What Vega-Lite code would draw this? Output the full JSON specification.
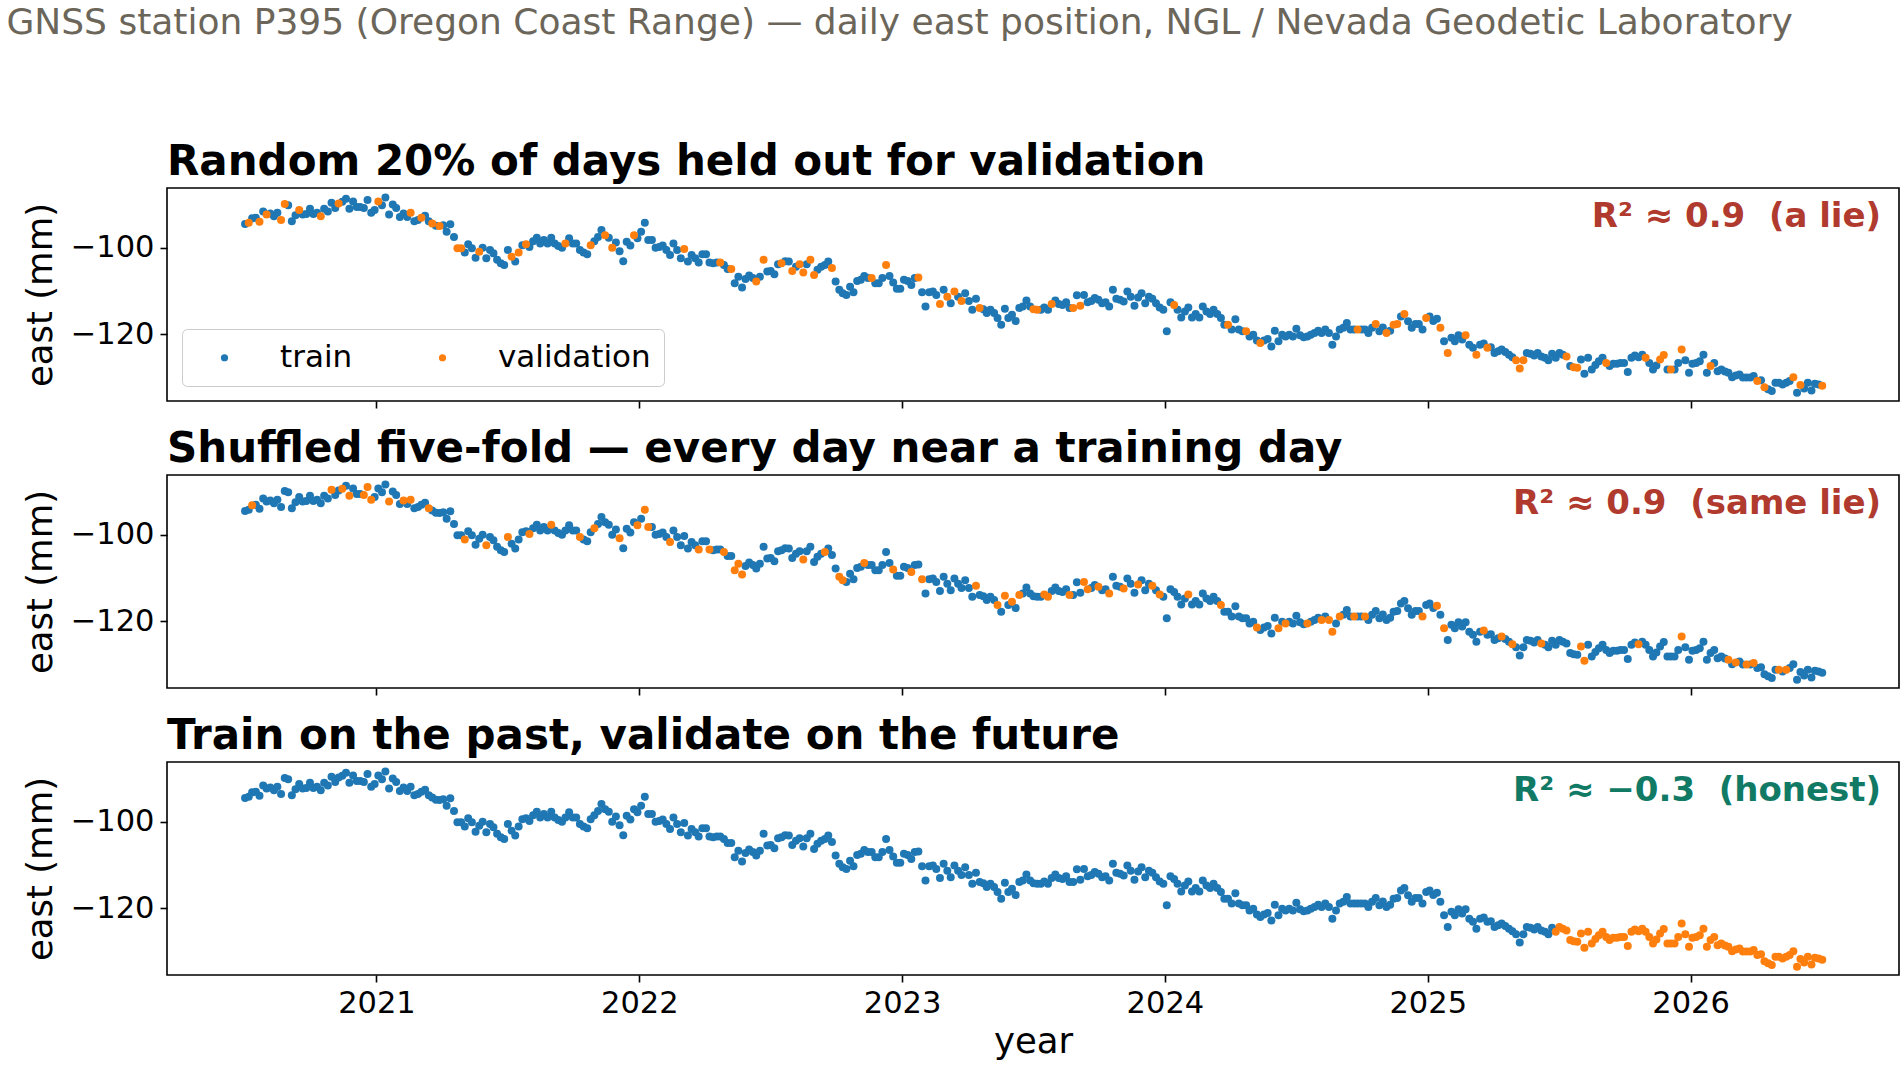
{
  "$schema": "https://vega.github.io/schema/vega-lite/v6.json",
  "background": "white",
  "padding": {"left": 6, "top": 5, "right": 4, "bottom": 6},
  "title": {
    "text": "GNSS station P395 (Oregon Coast Range) — daily east position, NGL / Nevada Geodetic Laboratory",
    "anchor": "start",
    "frame": "bounds",
    "baseline": "top",
    "fontSize": 36,
    "fontWeight": "normal",
    "color": "#6b6659",
    "offset": 98,
    "dx": -16
  },
  "datasets": {
    "gnss": [
      {"year":2020.500,"east":-94.5,"p1":0,"p2":0,"p3":0},
      {"year":2020.514,"east":-94.2,"p1":1,"p2":0,"p3":0},
      {"year":2020.527,"east":-93.2,"p1":0,"p2":1,"p3":0},
      {"year":2020.541,"east":-93.1,"p1":0,"p2":0,"p3":0},
      {"year":2020.555,"east":-94.0,"p1":1,"p2":0,"p3":0},
      {"year":2020.569,"east":-91.6,"p1":0,"p2":0,"p3":0},
      {"year":2020.582,"east":-92.3,"p1":1,"p2":0,"p3":0},
      {"year":2020.596,"east":-92.1,"p1":0,"p2":0,"p3":0},
      {"year":2020.610,"east":-92.7,"p1":0,"p2":0,"p3":0},
      {"year":2020.623,"east":-91.9,"p1":0,"p2":0,"p3":0},
      {"year":2020.637,"east":-93.6,"p1":1,"p2":0,"p3":0},
      {"year":2020.651,"east":-89.9,"p1":1,"p2":0,"p3":0},
      {"year":2020.664,"east":-90.2,"p1":0,"p2":0,"p3":0},
      {"year":2020.678,"east":-93.9,"p1":0,"p2":0,"p3":0},
      {"year":2020.692,"east":-92.5,"p1":0,"p2":0,"p3":0},
      {"year":2020.706,"east":-91.3,"p1":1,"p2":0,"p3":0},
      {"year":2020.719,"east":-92.3,"p1":0,"p2":0,"p3":0},
      {"year":2020.733,"east":-92.2,"p1":0,"p2":0,"p3":0},
      {"year":2020.747,"east":-91.0,"p1":0,"p2":0,"p3":0},
      {"year":2020.760,"east":-92.2,"p1":0,"p2":0,"p3":0},
      {"year":2020.774,"east":-91.9,"p1":0,"p2":0,"p3":0},
      {"year":2020.788,"east":-92.7,"p1":1,"p2":0,"p3":0},
      {"year":2020.801,"east":-91.0,"p1":0,"p2":0,"p3":0},
      {"year":2020.815,"east":-91.6,"p1":0,"p2":0,"p3":0},
      {"year":2020.829,"east":-89.6,"p1":0,"p2":1,"p3":0},
      {"year":2020.843,"east":-90.8,"p1":0,"p2":0,"p3":0},
      {"year":2020.856,"east":-89.8,"p1":1,"p2":0,"p3":0},
      {"year":2020.870,"east":-89.4,"p1":0,"p2":1,"p3":0},
      {"year":2020.884,"east":-88.7,"p1":0,"p2":0,"p3":0},
      {"year":2020.897,"east":-91.0,"p1":0,"p2":1,"p3":0},
      {"year":2020.911,"east":-89.3,"p1":0,"p2":0,"p3":0},
      {"year":2020.925,"east":-90.6,"p1":0,"p2":0,"p3":0},
      {"year":2020.938,"east":-90.6,"p1":0,"p2":0,"p3":0},
      {"year":2020.952,"east":-90.8,"p1":0,"p2":1,"p3":0},
      {"year":2020.966,"east":-89.0,"p1":0,"p2":1,"p3":0},
      {"year":2020.980,"east":-91.9,"p1":0,"p2":1,"p3":0},
      {"year":2020.993,"east":-91.3,"p1":0,"p2":0,"p3":0},
      {"year":2021.007,"east":-89.3,"p1":1,"p2":0,"p3":0},
      {"year":2021.021,"east":-90.2,"p1":0,"p2":0,"p3":0},
      {"year":2021.034,"east":-88.4,"p1":0,"p2":0,"p3":0},
      {"year":2021.048,"east":-92.3,"p1":0,"p2":1,"p3":0},
      {"year":2021.062,"east":-90.0,"p1":0,"p2":0,"p3":0},
      {"year":2021.075,"east":-90.8,"p1":0,"p2":0,"p3":0},
      {"year":2021.089,"east":-92.9,"p1":0,"p2":0,"p3":0},
      {"year":2021.103,"east":-92.1,"p1":0,"p2":1,"p3":0},
      {"year":2021.117,"east":-92.9,"p1":0,"p2":0,"p3":0},
      {"year":2021.130,"east":-91.9,"p1":1,"p2":1,"p3":0},
      {"year":2021.144,"east":-93.9,"p1":0,"p2":0,"p3":0},
      {"year":2021.158,"east":-93.6,"p1":0,"p2":0,"p3":0},
      {"year":2021.171,"east":-93.1,"p1":1,"p2":0,"p3":0},
      {"year":2021.185,"east":-92.6,"p1":0,"p2":0,"p3":0},
      {"year":2021.199,"east":-93.9,"p1":0,"p2":1,"p3":0},
      {"year":2021.212,"east":-94.4,"p1":1,"p2":0,"p3":0},
      {"year":2021.226,"east":-94.9,"p1":0,"p2":0,"p3":0},
      {"year":2021.240,"east":-95.0,"p1":1,"p2":0,"p3":0},
      {"year":2021.254,"east":-94.8,"p1":0,"p2":0,"p3":0},
      {"year":2021.267,"east":-96.3,"p1":0,"p2":0,"p3":0},
      {"year":2021.281,"east":-94.6,"p1":0,"p2":0,"p3":0},
      {"year":2021.295,"east":-97.5,"p1":0,"p2":0,"p3":0},
      {"year":2021.308,"east":-100.1,"p1":1,"p2":0,"p3":0},
      {"year":2021.322,"east":-100.1,"p1":1,"p2":0,"p3":0},
      {"year":2021.336,"east":-101.1,"p1":0,"p2":1,"p3":0},
      {"year":2021.349,"east":-99.2,"p1":0,"p2":0,"p3":0},
      {"year":2021.363,"east":-100.1,"p1":0,"p2":0,"p3":0},
      {"year":2021.377,"east":-102.3,"p1":0,"p2":0,"p3":0},
      {"year":2021.391,"east":-100.9,"p1":1,"p2":0,"p3":0},
      {"year":2021.404,"east":-100.0,"p1":0,"p2":0,"p3":0},
      {"year":2021.418,"east":-102.4,"p1":0,"p2":1,"p3":0},
      {"year":2021.432,"east":-100.5,"p1":0,"p2":0,"p3":0},
      {"year":2021.445,"east":-101.3,"p1":0,"p2":0,"p3":0},
      {"year":2021.459,"east":-102.8,"p1":0,"p2":0,"p3":0},
      {"year":2021.473,"east":-103.6,"p1":0,"p2":0,"p3":0},
      {"year":2021.486,"east":-104.0,"p1":0,"p2":0,"p3":0},
      {"year":2021.500,"east":-100.5,"p1":0,"p2":1,"p3":0},
      {"year":2021.514,"east":-102.1,"p1":1,"p2":0,"p3":0},
      {"year":2021.528,"east":-103.2,"p1":0,"p2":0,"p3":0},
      {"year":2021.541,"east":-101.1,"p1":1,"p2":0,"p3":0},
      {"year":2021.555,"east":-99.4,"p1":0,"p2":0,"p3":0},
      {"year":2021.569,"east":-99.2,"p1":1,"p2":0,"p3":0},
      {"year":2021.582,"east":-99.8,"p1":0,"p2":1,"p3":0},
      {"year":2021.596,"east":-98.5,"p1":0,"p2":0,"p3":0},
      {"year":2021.610,"east":-97.7,"p1":0,"p2":0,"p3":0},
      {"year":2021.623,"east":-99.0,"p1":0,"p2":0,"p3":0},
      {"year":2021.637,"east":-98.2,"p1":0,"p2":0,"p3":0},
      {"year":2021.651,"east":-99.0,"p1":0,"p2":0,"p3":0},
      {"year":2021.665,"east":-97.7,"p1":0,"p2":1,"p3":0},
      {"year":2021.678,"east":-99.0,"p1":0,"p2":0,"p3":0},
      {"year":2021.692,"east":-99.6,"p1":0,"p2":0,"p3":0},
      {"year":2021.706,"east":-100.0,"p1":0,"p2":0,"p3":0},
      {"year":2021.719,"east":-99.0,"p1":1,"p2":0,"p3":0},
      {"year":2021.733,"east":-97.8,"p1":0,"p2":0,"p3":0},
      {"year":2021.747,"east":-99.0,"p1":0,"p2":0,"p3":0},
      {"year":2021.760,"east":-99.0,"p1":0,"p2":0,"p3":0},
      {"year":2021.774,"east":-100.5,"p1":0,"p2":1,"p3":0},
      {"year":2021.788,"east":-101.1,"p1":0,"p2":0,"p3":0},
      {"year":2021.802,"east":-101.5,"p1":0,"p2":0,"p3":0},
      {"year":2021.815,"east":-99.4,"p1":1,"p2":0,"p3":0},
      {"year":2021.829,"east":-98.5,"p1":0,"p2":1,"p3":0},
      {"year":2021.843,"east":-97.5,"p1":0,"p2":0,"p3":0},
      {"year":2021.856,"east":-95.9,"p1":0,"p2":0,"p3":0},
      {"year":2021.870,"east":-97.1,"p1":1,"p2":0,"p3":0},
      {"year":2021.884,"east":-97.7,"p1":0,"p2":0,"p3":0},
      {"year":2021.897,"east":-100.0,"p1":1,"p2":0,"p3":0},
      {"year":2021.911,"east":-98.8,"p1":0,"p2":0,"p3":0},
      {"year":2021.925,"east":-100.8,"p1":0,"p2":1,"p3":0},
      {"year":2021.939,"east":-103.1,"p1":0,"p2":0,"p3":0},
      {"year":2021.952,"east":-98.6,"p1":0,"p2":0,"p3":0},
      {"year":2021.966,"east":-99.5,"p1":0,"p2":0,"p3":0},
      {"year":2021.980,"east":-97.1,"p1":1,"p2":0,"p3":0},
      {"year":2021.993,"east":-97.8,"p1":0,"p2":1,"p3":0},
      {"year":2022.007,"east":-96.3,"p1":0,"p2":0,"p3":0},
      {"year":2022.021,"east":-94.2,"p1":0,"p2":1,"p3":0},
      {"year":2022.034,"east":-98.2,"p1":0,"p2":1,"p3":0},
      {"year":2022.048,"east":-98.2,"p1":0,"p2":0,"p3":0},
      {"year":2022.062,"east":-100.0,"p1":0,"p2":0,"p3":0},
      {"year":2022.076,"east":-99.8,"p1":0,"p2":0,"p3":0},
      {"year":2022.089,"east":-99.5,"p1":0,"p2":0,"p3":0},
      {"year":2022.103,"east":-100.5,"p1":0,"p2":0,"p3":0},
      {"year":2022.117,"east":-101.7,"p1":0,"p2":1,"p3":0},
      {"year":2022.130,"east":-99.0,"p1":0,"p2":0,"p3":0},
      {"year":2022.144,"east":-100.5,"p1":0,"p2":0,"p3":0},
      {"year":2022.158,"east":-102.4,"p1":0,"p2":0,"p3":0},
      {"year":2022.171,"east":-100.3,"p1":1,"p2":0,"p3":0},
      {"year":2022.185,"east":-103.2,"p1":0,"p2":0,"p3":0},
      {"year":2022.199,"east":-101.7,"p1":0,"p2":0,"p3":0},
      {"year":2022.213,"east":-102.4,"p1":0,"p2":0,"p3":0},
      {"year":2022.226,"east":-103.4,"p1":0,"p2":1,"p3":0},
      {"year":2022.240,"east":-101.5,"p1":0,"p2":0,"p3":0},
      {"year":2022.254,"east":-101.5,"p1":0,"p2":0,"p3":0},
      {"year":2022.267,"east":-103.4,"p1":0,"p2":1,"p3":0},
      {"year":2022.281,"east":-103.6,"p1":0,"p2":0,"p3":0},
      {"year":2022.295,"east":-103.4,"p1":0,"p2":0,"p3":0},
      {"year":2022.308,"east":-103.4,"p1":1,"p2":0,"p3":0},
      {"year":2022.322,"east":-104.0,"p1":0,"p2":1,"p3":0},
      {"year":2022.336,"east":-104.9,"p1":0,"p2":0,"p3":0},
      {"year":2022.350,"east":-104.9,"p1":1,"p2":0,"p3":0},
      {"year":2022.363,"east":-108.2,"p1":0,"p2":1,"p3":0},
      {"year":2022.377,"east":-106.7,"p1":0,"p2":1,"p3":0},
      {"year":2022.391,"east":-109.2,"p1":0,"p2":1,"p3":0},
      {"year":2022.404,"east":-107.2,"p1":0,"p2":0,"p3":0},
      {"year":2022.418,"east":-106.4,"p1":0,"p2":0,"p3":0},
      {"year":2022.432,"east":-107.0,"p1":0,"p2":0,"p3":0},
      {"year":2022.445,"east":-107.8,"p1":1,"p2":0,"p3":0},
      {"year":2022.459,"east":-106.7,"p1":0,"p2":0,"p3":0},
      {"year":2022.473,"east":-102.8,"p1":1,"p2":0,"p3":0},
      {"year":2022.487,"east":-105.5,"p1":0,"p2":0,"p3":0},
      {"year":2022.500,"east":-105.4,"p1":0,"p2":0,"p3":0},
      {"year":2022.514,"east":-106.1,"p1":0,"p2":0,"p3":0},
      {"year":2022.528,"east":-103.8,"p1":0,"p2":0,"p3":0},
      {"year":2022.541,"east":-103.6,"p1":1,"p2":0,"p3":0},
      {"year":2022.555,"east":-103.1,"p1":0,"p2":0,"p3":0},
      {"year":2022.569,"east":-103.2,"p1":0,"p2":0,"p3":0},
      {"year":2022.582,"east":-105.4,"p1":1,"p2":0,"p3":0},
      {"year":2022.596,"east":-104.4,"p1":0,"p2":0,"p3":0},
      {"year":2022.610,"east":-103.8,"p1":1,"p2":0,"p3":0},
      {"year":2022.624,"east":-105.7,"p1":1,"p2":1,"p3":0},
      {"year":2022.637,"east":-103.8,"p1":0,"p2":0,"p3":0},
      {"year":2022.651,"east":-102.8,"p1":1,"p2":0,"p3":0},
      {"year":2022.665,"east":-106.3,"p1":1,"p2":0,"p3":0},
      {"year":2022.678,"east":-105.1,"p1":0,"p2":0,"p3":0},
      {"year":2022.692,"east":-104.4,"p1":0,"p2":0,"p3":0},
      {"year":2022.706,"east":-104.0,"p1":0,"p2":1,"p3":0},
      {"year":2022.719,"east":-103.2,"p1":0,"p2":0,"p3":0},
      {"year":2022.733,"east":-104.7,"p1":1,"p2":0,"p3":0},
      {"year":2022.747,"east":-107.8,"p1":0,"p2":0,"p3":0},
      {"year":2022.761,"east":-109.7,"p1":0,"p2":1,"p3":0},
      {"year":2022.774,"east":-110.5,"p1":0,"p2":1,"p3":0},
      {"year":2022.788,"east":-110.9,"p1":0,"p2":0,"p3":0},
      {"year":2022.802,"east":-109.0,"p1":0,"p2":0,"p3":0},
      {"year":2022.815,"east":-110.3,"p1":0,"p2":0,"p3":0},
      {"year":2022.829,"east":-107.7,"p1":0,"p2":0,"p3":0},
      {"year":2022.843,"east":-107.4,"p1":0,"p2":0,"p3":0},
      {"year":2022.856,"east":-106.5,"p1":0,"p2":1,"p3":0},
      {"year":2022.870,"east":-107.0,"p1":0,"p2":0,"p3":0},
      {"year":2022.884,"east":-107.0,"p1":1,"p2":0,"p3":0},
      {"year":2022.898,"east":-108.2,"p1":0,"p2":0,"p3":0},
      {"year":2022.911,"east":-108.2,"p1":0,"p2":0,"p3":0},
      {"year":2022.925,"east":-107.0,"p1":0,"p2":0,"p3":0},
      {"year":2022.939,"east":-104.0,"p1":1,"p2":0,"p3":0},
      {"year":2022.952,"east":-106.5,"p1":0,"p2":0,"p3":0},
      {"year":2022.966,"east":-108.0,"p1":0,"p2":1,"p3":0},
      {"year":2022.980,"east":-109.5,"p1":0,"p2":0,"p3":0},
      {"year":2022.993,"east":-109.5,"p1":0,"p2":0,"p3":0},
      {"year":2023.007,"east":-107.4,"p1":0,"p2":0,"p3":0},
      {"year":2023.021,"east":-107.7,"p1":0,"p2":0,"p3":0},
      {"year":2023.035,"east":-108.6,"p1":0,"p2":1,"p3":0},
      {"year":2023.048,"east":-107.0,"p1":0,"p2":0,"p3":0},
      {"year":2023.062,"east":-106.9,"p1":1,"p2":0,"p3":0},
      {"year":2023.076,"east":-110.3,"p1":0,"p2":1,"p3":0},
      {"year":2023.089,"east":-113.6,"p1":0,"p2":0,"p3":0},
      {"year":2023.103,"east":-110.3,"p1":0,"p2":0,"p3":0},
      {"year":2023.117,"east":-110.1,"p1":0,"p2":0,"p3":0},
      {"year":2023.130,"east":-110.9,"p1":0,"p2":0,"p3":0},
      {"year":2023.144,"east":-113.0,"p1":1,"p2":0,"p3":0},
      {"year":2023.158,"east":-109.7,"p1":0,"p2":0,"p3":0},
      {"year":2023.172,"east":-111.3,"p1":1,"p2":0,"p3":0},
      {"year":2023.185,"east":-112.8,"p1":0,"p2":0,"p3":0},
      {"year":2023.199,"east":-110.1,"p1":1,"p2":0,"p3":0},
      {"year":2023.213,"east":-111.3,"p1":0,"p2":0,"p3":0},
      {"year":2023.226,"east":-112.3,"p1":1,"p2":0,"p3":0},
      {"year":2023.240,"east":-110.5,"p1":0,"p2":0,"p3":0},
      {"year":2023.254,"east":-112.3,"p1":0,"p2":0,"p3":0},
      {"year":2023.267,"east":-114.3,"p1":0,"p2":0,"p3":0},
      {"year":2023.281,"east":-111.8,"p1":0,"p2":1,"p3":0},
      {"year":2023.295,"east":-113.9,"p1":1,"p2":0,"p3":0},
      {"year":2023.309,"east":-114.2,"p1":0,"p2":0,"p3":0},
      {"year":2023.322,"east":-115.1,"p1":0,"p2":0,"p3":0},
      {"year":2023.336,"east":-114.3,"p1":0,"p2":0,"p3":0},
      {"year":2023.350,"east":-115.1,"p1":0,"p2":0,"p3":0},
      {"year":2023.363,"east":-116.2,"p1":0,"p2":1,"p3":0},
      {"year":2023.377,"east":-117.8,"p1":0,"p2":0,"p3":0},
      {"year":2023.391,"east":-114.1,"p1":0,"p2":1,"p3":0},
      {"year":2023.404,"east":-116.2,"p1":0,"p2":0,"p3":0},
      {"year":2023.418,"east":-115.5,"p1":0,"p2":1,"p3":0},
      {"year":2023.432,"east":-116.9,"p1":0,"p2":0,"p3":0},
      {"year":2023.446,"east":-113.9,"p1":0,"p2":1,"p3":0},
      {"year":2023.459,"east":-113.6,"p1":0,"p2":0,"p3":0},
      {"year":2023.473,"east":-112.2,"p1":0,"p2":0,"p3":0},
      {"year":2023.487,"east":-113.6,"p1":0,"p2":0,"p3":0},
      {"year":2023.500,"east":-114.2,"p1":1,"p2":0,"p3":0},
      {"year":2023.514,"east":-114.3,"p1":1,"p2":0,"p3":0},
      {"year":2023.528,"east":-114.3,"p1":0,"p2":0,"p3":0},
      {"year":2023.541,"east":-113.8,"p1":0,"p2":1,"p3":0},
      {"year":2023.555,"east":-114.3,"p1":0,"p2":1,"p3":0},
      {"year":2023.569,"east":-113.0,"p1":1,"p2":0,"p3":0},
      {"year":2023.583,"east":-112.2,"p1":0,"p2":0,"p3":0},
      {"year":2023.596,"east":-113.0,"p1":0,"p2":0,"p3":0},
      {"year":2023.610,"east":-113.2,"p1":0,"p2":0,"p3":0},
      {"year":2023.624,"east":-112.6,"p1":0,"p2":0,"p3":0},
      {"year":2023.637,"east":-113.9,"p1":0,"p2":1,"p3":0},
      {"year":2023.651,"east":-113.9,"p1":1,"p2":0,"p3":0},
      {"year":2023.665,"east":-111.0,"p1":0,"p2":0,"p3":0},
      {"year":2023.678,"east":-113.4,"p1":1,"p2":0,"p3":0},
      {"year":2023.692,"east":-110.9,"p1":0,"p2":1,"p3":0},
      {"year":2023.706,"east":-112.6,"p1":0,"p2":1,"p3":0},
      {"year":2023.720,"east":-112.3,"p1":0,"p2":0,"p3":0},
      {"year":2023.733,"east":-111.6,"p1":0,"p2":0,"p3":0},
      {"year":2023.747,"east":-112.0,"p1":0,"p2":1,"p3":0},
      {"year":2023.761,"east":-112.8,"p1":0,"p2":0,"p3":0},
      {"year":2023.774,"east":-112.6,"p1":0,"p2":0,"p3":0},
      {"year":2023.788,"east":-113.6,"p1":0,"p2":1,"p3":0},
      {"year":2023.802,"east":-109.7,"p1":0,"p2":0,"p3":0},
      {"year":2023.815,"east":-111.8,"p1":0,"p2":0,"p3":0},
      {"year":2023.829,"east":-112.0,"p1":0,"p2":0,"p3":0},
      {"year":2023.843,"east":-112.4,"p1":0,"p2":1,"p3":0},
      {"year":2023.857,"east":-110.1,"p1":0,"p2":0,"p3":0},
      {"year":2023.870,"east":-111.3,"p1":0,"p2":0,"p3":0},
      {"year":2023.884,"east":-113.4,"p1":0,"p2":0,"p3":0},
      {"year":2023.898,"east":-111.5,"p1":0,"p2":1,"p3":0},
      {"year":2023.911,"east":-110.5,"p1":0,"p2":0,"p3":0},
      {"year":2023.925,"east":-112.8,"p1":0,"p2":0,"p3":0},
      {"year":2023.939,"east":-111.3,"p1":0,"p2":0,"p3":0},
      {"year":2023.952,"east":-111.8,"p1":0,"p2":1,"p3":0},
      {"year":2023.966,"east":-112.8,"p1":0,"p2":0,"p3":0},
      {"year":2023.980,"east":-113.8,"p1":0,"p2":1,"p3":0},
      {"year":2023.994,"east":-114.3,"p1":0,"p2":0,"p3":0},
      {"year":2024.007,"east":-119.3,"p1":0,"p2":0,"p3":0},
      {"year":2024.021,"east":-112.6,"p1":0,"p2":0,"p3":0},
      {"year":2024.035,"east":-113.2,"p1":1,"p2":0,"p3":0},
      {"year":2024.048,"east":-114.3,"p1":0,"p2":0,"p3":0},
      {"year":2024.062,"east":-116.1,"p1":0,"p2":0,"p3":0},
      {"year":2024.076,"east":-114.7,"p1":0,"p2":0,"p3":0},
      {"year":2024.089,"east":-113.8,"p1":0,"p2":1,"p3":0},
      {"year":2024.103,"east":-116.1,"p1":0,"p2":0,"p3":0},
      {"year":2024.117,"east":-115.3,"p1":0,"p2":0,"p3":0},
      {"year":2024.131,"east":-116.1,"p1":0,"p2":0,"p3":0},
      {"year":2024.144,"east":-113.6,"p1":0,"p2":0,"p3":0},
      {"year":2024.158,"east":-114.7,"p1":0,"p2":0,"p3":0},
      {"year":2024.172,"east":-115.3,"p1":0,"p2":0,"p3":0},
      {"year":2024.185,"east":-114.3,"p1":0,"p2":0,"p3":0},
      {"year":2024.199,"east":-115.3,"p1":0,"p2":0,"p3":0},
      {"year":2024.213,"east":-116.2,"p1":0,"p2":1,"p3":0},
      {"year":2024.226,"east":-117.8,"p1":0,"p2":0,"p3":0},
      {"year":2024.240,"east":-117.8,"p1":1,"p2":0,"p3":0},
      {"year":2024.254,"east":-118.9,"p1":0,"p2":0,"p3":0},
      {"year":2024.268,"east":-116.5,"p1":0,"p2":0,"p3":0},
      {"year":2024.281,"east":-118.9,"p1":0,"p2":0,"p3":0},
      {"year":2024.295,"east":-119.3,"p1":0,"p2":0,"p3":0},
      {"year":2024.309,"east":-119.3,"p1":1,"p2":0,"p3":0},
      {"year":2024.322,"east":-120.5,"p1":0,"p2":0,"p3":0},
      {"year":2024.336,"east":-120.1,"p1":0,"p2":0,"p3":0},
      {"year":2024.350,"east":-121.4,"p1":0,"p2":1,"p3":0},
      {"year":2024.363,"east":-122.0,"p1":1,"p2":0,"p3":0},
      {"year":2024.377,"east":-121.4,"p1":0,"p2":0,"p3":0},
      {"year":2024.391,"east":-121.1,"p1":0,"p2":0,"p3":0},
      {"year":2024.405,"east":-122.8,"p1":0,"p2":0,"p3":0},
      {"year":2024.418,"east":-119.2,"p1":0,"p2":0,"p3":0},
      {"year":2024.432,"east":-121.6,"p1":0,"p2":1,"p3":0},
      {"year":2024.446,"east":-120.1,"p1":0,"p2":0,"p3":0},
      {"year":2024.459,"east":-120.5,"p1":0,"p2":1,"p3":0},
      {"year":2024.473,"east":-120.1,"p1":0,"p2":0,"p3":0},
      {"year":2024.487,"east":-120.5,"p1":0,"p2":0,"p3":0},
      {"year":2024.500,"east":-118.7,"p1":0,"p2":0,"p3":0},
      {"year":2024.514,"east":-120.2,"p1":0,"p2":0,"p3":0},
      {"year":2024.528,"east":-120.7,"p1":0,"p2":0,"p3":0},
      {"year":2024.542,"east":-120.5,"p1":0,"p2":1,"p3":0},
      {"year":2024.555,"east":-120.1,"p1":0,"p2":0,"p3":0},
      {"year":2024.569,"east":-119.7,"p1":0,"p2":0,"p3":0},
      {"year":2024.583,"east":-119.2,"p1":0,"p2":0,"p3":0},
      {"year":2024.596,"east":-119.7,"p1":0,"p2":1,"p3":0},
      {"year":2024.610,"east":-118.9,"p1":0,"p2":0,"p3":0},
      {"year":2024.624,"east":-119.7,"p1":0,"p2":1,"p3":0},
      {"year":2024.637,"east":-122.4,"p1":0,"p2":1,"p3":0},
      {"year":2024.651,"east":-120.5,"p1":0,"p2":0,"p3":0},
      {"year":2024.665,"east":-118.9,"p1":0,"p2":1,"p3":0},
      {"year":2024.679,"east":-118.5,"p1":0,"p2":0,"p3":0},
      {"year":2024.692,"east":-117.4,"p1":0,"p2":0,"p3":0},
      {"year":2024.706,"east":-118.9,"p1":0,"p2":0,"p3":0},
      {"year":2024.720,"east":-118.9,"p1":0,"p2":1,"p3":0},
      {"year":2024.733,"east":-118.9,"p1":1,"p2":0,"p3":0},
      {"year":2024.747,"east":-118.9,"p1":0,"p2":0,"p3":0},
      {"year":2024.761,"east":-118.9,"p1":0,"p2":1,"p3":0},
      {"year":2024.774,"east":-119.7,"p1":0,"p2":0,"p3":0},
      {"year":2024.788,"east":-118.5,"p1":0,"p2":0,"p3":0},
      {"year":2024.802,"east":-117.6,"p1":1,"p2":0,"p3":0},
      {"year":2024.816,"east":-119.3,"p1":0,"p2":0,"p3":0},
      {"year":2024.829,"east":-118.4,"p1":0,"p2":0,"p3":0},
      {"year":2024.843,"east":-119.7,"p1":1,"p2":0,"p3":0},
      {"year":2024.857,"east":-119.2,"p1":0,"p2":0,"p3":0},
      {"year":2024.870,"east":-117.8,"p1":1,"p2":0,"p3":0},
      {"year":2024.884,"east":-117.6,"p1":1,"p2":0,"p3":0},
      {"year":2024.898,"east":-115.9,"p1":0,"p2":0,"p3":0},
      {"year":2024.911,"east":-115.3,"p1":1,"p2":0,"p3":0},
      {"year":2024.925,"east":-117.0,"p1":0,"p2":0,"p3":0},
      {"year":2024.939,"east":-118.5,"p1":0,"p2":0,"p3":0},
      {"year":2024.953,"east":-117.6,"p1":0,"p2":0,"p3":0},
      {"year":2024.966,"east":-117.6,"p1":0,"p2":0,"p3":0},
      {"year":2024.980,"east":-118.9,"p1":0,"p2":1,"p3":0},
      {"year":2024.994,"east":-116.2,"p1":1,"p2":0,"p3":0},
      {"year":2025.007,"east":-115.9,"p1":0,"p2":0,"p3":0},
      {"year":2025.021,"east":-116.9,"p1":0,"p2":0,"p3":0},
      {"year":2025.035,"east":-116.4,"p1":0,"p2":1,"p3":0},
      {"year":2025.048,"east":-118.5,"p1":1,"p2":0,"p3":0},
      {"year":2025.062,"east":-121.6,"p1":0,"p2":1,"p3":0},
      {"year":2025.076,"east":-124.3,"p1":1,"p2":0,"p3":0},
      {"year":2025.090,"east":-120.8,"p1":0,"p2":0,"p3":0},
      {"year":2025.103,"east":-121.6,"p1":0,"p2":0,"p3":0},
      {"year":2025.117,"east":-120.2,"p1":0,"p2":0,"p3":0},
      {"year":2025.131,"east":-121.2,"p1":0,"p2":0,"p3":0},
      {"year":2025.144,"east":-120.2,"p1":1,"p2":0,"p3":0},
      {"year":2025.158,"east":-122.4,"p1":0,"p2":0,"p3":0},
      {"year":2025.172,"east":-123.1,"p1":0,"p2":0,"p3":0},
      {"year":2025.185,"east":-124.7,"p1":1,"p2":0,"p3":0},
      {"year":2025.199,"east":-122.4,"p1":0,"p2":0,"p3":0},
      {"year":2025.213,"east":-122.1,"p1":0,"p2":1,"p3":0},
      {"year":2025.227,"east":-123.1,"p1":1,"p2":0,"p3":0},
      {"year":2025.240,"east":-123.0,"p1":0,"p2":0,"p3":0},
      {"year":2025.254,"east":-124.3,"p1":0,"p2":0,"p3":0},
      {"year":2025.268,"east":-123.9,"p1":0,"p2":0,"p3":0},
      {"year":2025.281,"east":-123.5,"p1":0,"p2":1,"p3":0},
      {"year":2025.295,"east":-124.1,"p1":0,"p2":0,"p3":0},
      {"year":2025.309,"east":-124.7,"p1":0,"p2":0,"p3":0},
      {"year":2025.322,"east":-125.3,"p1":0,"p2":1,"p3":0},
      {"year":2025.336,"east":-126.0,"p1":1,"p2":0,"p3":0},
      {"year":2025.350,"east":-127.9,"p1":1,"p2":0,"p3":0},
      {"year":2025.364,"east":-126.0,"p1":1,"p2":0,"p3":0},
      {"year":2025.377,"east":-124.3,"p1":0,"p2":0,"p3":0},
      {"year":2025.391,"east":-124.5,"p1":0,"p2":0,"p3":0},
      {"year":2025.405,"east":-124.9,"p1":0,"p2":0,"p3":0},
      {"year":2025.418,"east":-124.3,"p1":0,"p2":0,"p3":0},
      {"year":2025.432,"east":-125.1,"p1":0,"p2":1,"p3":0},
      {"year":2025.446,"east":-125.4,"p1":0,"p2":0,"p3":0},
      {"year":2025.459,"east":-126.0,"p1":0,"p2":0,"p3":0},
      {"year":2025.473,"east":-124.5,"p1":0,"p2":0,"p3":0},
      {"year":2025.487,"east":-125.4,"p1":0,"p2":0,"p3":1},
      {"year":2025.501,"east":-124.3,"p1":0,"p2":0,"p3":1},
      {"year":2025.514,"east":-124.7,"p1":0,"p2":0,"p3":1},
      {"year":2025.528,"east":-125.1,"p1":1,"p2":0,"p3":1},
      {"year":2025.542,"east":-127.3,"p1":0,"p2":0,"p3":1},
      {"year":2025.555,"east":-127.6,"p1":1,"p2":0,"p3":1},
      {"year":2025.569,"east":-127.7,"p1":1,"p2":0,"p3":1},
      {"year":2025.583,"east":-125.8,"p1":0,"p2":1,"p3":1},
      {"year":2025.596,"east":-129.1,"p1":0,"p2":1,"p3":1},
      {"year":2025.610,"east":-125.4,"p1":0,"p2":0,"p3":1},
      {"year":2025.624,"east":-128.1,"p1":0,"p2":0,"p3":1},
      {"year":2025.638,"east":-127.1,"p1":0,"p2":0,"p3":1},
      {"year":2025.651,"east":-126.2,"p1":0,"p2":0,"p3":1},
      {"year":2025.665,"east":-125.4,"p1":0,"p2":0,"p3":1},
      {"year":2025.679,"east":-126.6,"p1":1,"p2":0,"p3":1},
      {"year":2025.692,"east":-127.3,"p1":0,"p2":0,"p3":1},
      {"year":2025.706,"east":-126.8,"p1":0,"p2":0,"p3":1},
      {"year":2025.720,"east":-126.8,"p1":0,"p2":0,"p3":1},
      {"year":2025.733,"east":-126.6,"p1":0,"p2":0,"p3":1},
      {"year":2025.747,"east":-126.6,"p1":0,"p2":0,"p3":1},
      {"year":2025.761,"east":-128.7,"p1":0,"p2":0,"p3":1},
      {"year":2025.775,"east":-125.4,"p1":0,"p2":0,"p3":1},
      {"year":2025.788,"east":-124.9,"p1":0,"p2":0,"p3":1},
      {"year":2025.802,"east":-125.3,"p1":0,"p2":1,"p3":1},
      {"year":2025.816,"east":-124.7,"p1":0,"p2":0,"p3":1},
      {"year":2025.829,"east":-125.4,"p1":1,"p2":0,"p3":1},
      {"year":2025.843,"east":-126.6,"p1":0,"p2":0,"p3":1},
      {"year":2025.857,"east":-128.1,"p1":0,"p2":0,"p3":1},
      {"year":2025.870,"east":-127.2,"p1":0,"p2":0,"p3":1},
      {"year":2025.884,"east":-125.8,"p1":1,"p2":0,"p3":1},
      {"year":2025.898,"east":-124.8,"p1":1,"p2":0,"p3":1},
      {"year":2025.912,"east":-128.1,"p1":0,"p2":0,"p3":1},
      {"year":2025.925,"east":-128.1,"p1":1,"p2":0,"p3":1},
      {"year":2025.939,"east":-128.1,"p1":0,"p2":0,"p3":1},
      {"year":2025.953,"east":-126.6,"p1":0,"p2":0,"p3":1},
      {"year":2025.966,"east":-123.5,"p1":1,"p2":1,"p3":1},
      {"year":2025.980,"east":-126.0,"p1":0,"p2":0,"p3":1},
      {"year":2025.994,"east":-128.9,"p1":0,"p2":0,"p3":1},
      {"year":2026.007,"east":-126.8,"p1":0,"p2":0,"p3":1},
      {"year":2026.021,"east":-126.6,"p1":0,"p2":0,"p3":1},
      {"year":2026.035,"east":-126.2,"p1":0,"p2":0,"p3":1},
      {"year":2026.049,"east":-124.7,"p1":0,"p2":0,"p3":1},
      {"year":2026.062,"east":-128.9,"p1":0,"p2":0,"p3":1},
      {"year":2026.076,"east":-127.3,"p1":1,"p2":0,"p3":1},
      {"year":2026.090,"east":-126.6,"p1":0,"p2":0,"p3":1},
      {"year":2026.103,"east":-128.5,"p1":0,"p2":0,"p3":1},
      {"year":2026.117,"east":-128.1,"p1":0,"p2":0,"p3":1},
      {"year":2026.131,"east":-128.6,"p1":0,"p2":0,"p3":1},
      {"year":2026.144,"east":-128.9,"p1":0,"p2":1,"p3":1},
      {"year":2026.158,"east":-129.9,"p1":0,"p2":0,"p3":1},
      {"year":2026.172,"east":-129.5,"p1":0,"p2":1,"p3":1},
      {"year":2026.186,"east":-129.3,"p1":0,"p2":0,"p3":1},
      {"year":2026.199,"east":-130.0,"p1":0,"p2":0,"p3":1},
      {"year":2026.213,"east":-130.0,"p1":0,"p2":1,"p3":1},
      {"year":2026.227,"east":-130.0,"p1":0,"p2":0,"p3":1},
      {"year":2026.240,"east":-129.6,"p1":0,"p2":1,"p3":1},
      {"year":2026.254,"east":-130.8,"p1":1,"p2":0,"p3":1},
      {"year":2026.268,"east":-130.6,"p1":0,"p2":0,"p3":1},
      {"year":2026.281,"east":-132.2,"p1":1,"p2":0,"p3":1},
      {"year":2026.295,"east":-132.7,"p1":0,"p2":0,"p3":1},
      {"year":2026.309,"east":-133.1,"p1":0,"p2":0,"p3":1},
      {"year":2026.323,"east":-131.2,"p1":0,"p2":0,"p3":1},
      {"year":2026.336,"east":-131.2,"p1":0,"p2":1,"p3":1},
      {"year":2026.350,"east":-131.6,"p1":0,"p2":0,"p3":1},
      {"year":2026.364,"east":-131.2,"p1":0,"p2":1,"p3":1},
      {"year":2026.377,"east":-130.8,"p1":0,"p2":0,"p3":1},
      {"year":2026.391,"east":-129.9,"p1":1,"p2":0,"p3":1},
      {"year":2026.405,"east":-133.5,"p1":0,"p2":0,"p3":1},
      {"year":2026.418,"east":-131.7,"p1":1,"p2":0,"p3":1},
      {"year":2026.432,"east":-132.5,"p1":0,"p2":0,"p3":1},
      {"year":2026.446,"east":-131.2,"p1":0,"p2":0,"p3":1},
      {"year":2026.460,"east":-133.0,"p1":0,"p2":0,"p3":1},
      {"year":2026.473,"east":-131.4,"p1":0,"p2":0,"p3":1},
      {"year":2026.487,"east":-131.6,"p1":0,"p2":0,"p3":1},
      {"year":2026.501,"east":-131.9,"p1":1,"p2":0,"p3":1}
    ]
  },
  "vconcat": [
    {
      "width": 1732,
      "height": 213,
      "title": {"text": "Random 20% of days held out for validation"},
      "layer": [
        {
          "data": {"name": "gnss"},
          "mark": {"type": "circle", "size": 64, "opacity": 1},
          "encoding": {
            "x": {"field": "year", "type": "quantitative", "scale": {"domain": [2020.203, 2026.793], "nice": false, "zero": false}, "axis": {"values": [2021, 2022, 2023, 2024, 2025, 2026], "labels": false, "title": null}},
            "y": {"field": "east", "type": "quantitative", "scale": {"domain": [-135.4, -86.2], "nice": false, "zero": false}, "axis": {"values": [-100, -120], "format": "d", "title": "east (mm)"}},
            "color": {
              "field": "p1",
              "type": "nominal",
              "scale": {"domain": [0, 1], "range": ["#1f77b4", "#ff7f0e"]},
              "legend": {
                "title": null,
                "orient": "bottom-left",
                "offset": 15,
                "direction": "horizontal",
                "columns": 2,
                "labelExpr": "datum.value == 1 ? 'validation' : 'train'",
                "labelFontSize": 31,
                "labelColor": "black",
                "symbolType": "circle",
                "symbolSize": 52,
                "symbolStrokeWidth": 0,
                "symbolOffset": 14,
                "labelOffset": 40,
                "columnPadding": 60,
                "padding": 13,
                "strokeColor": "#cccccc",
                "fillColor": "white",
                "cornerRadius": 5
              }
            },
            "order": {"field": "p1", "type": "quantitative"}
          }
        },
        {
          "data": {"values": [{"note": "R² ≈ 0.9 \u00a0(a lie)"}]},
          "mark": {"type": "text", "align": "right", "baseline": "middle", "fontSize": 34, "fontWeight": "bold", "color": "#b03a2e"},
          "encoding": {
            "x": {"datum": 2026.725, "type": "quantitative"},
            "y": {"datum": -92.9, "type": "quantitative"},
            "text": {"field": "note"}
          }
        }
      ]
    },
    {
      "width": 1732,
      "height": 213,
      "title": {"text": "Shuffled five-fold — every day near a training day"},
      "layer": [
        {
          "data": {"name": "gnss"},
          "mark": {"type": "circle", "size": 64, "opacity": 1},
          "encoding": {
            "x": {"field": "year", "type": "quantitative", "scale": {"domain": [2020.203, 2026.793], "nice": false, "zero": false}, "axis": {"values": [2021, 2022, 2023, 2024, 2025, 2026], "labels": false, "title": null}},
            "y": {"field": "east", "type": "quantitative", "scale": {"domain": [-135.4, -86.2], "nice": false, "zero": false}, "axis": {"values": [-100, -120], "format": "d", "title": "east (mm)"}},
            "color": {"field": "p2", "type": "nominal", "scale": {"domain": [0, 1], "range": ["#1f77b4", "#ff7f0e"]}, "legend": null},
            "order": {"field": "p2", "type": "quantitative"}
          }
        },
        {
          "data": {"values": [{"note": "R² ≈ 0.9 \u00a0(same lie)"}]},
          "mark": {"type": "text", "align": "right", "baseline": "middle", "fontSize": 34, "fontWeight": "bold", "color": "#b03a2e"},
          "encoding": {
            "x": {"datum": 2026.725, "type": "quantitative"},
            "y": {"datum": -92.9, "type": "quantitative"},
            "text": {"field": "note"}
          }
        }
      ]
    },
    {
      "width": 1732,
      "height": 213,
      "title": {"text": "Train on the past, validate on the future"},
      "layer": [
        {
          "data": {"name": "gnss"},
          "mark": {"type": "circle", "size": 64, "opacity": 1},
          "encoding": {
            "x": {"field": "year", "type": "quantitative", "scale": {"domain": [2020.203, 2026.793], "nice": false, "zero": false}, "axis": {"values": [2021, 2022, 2023, 2024, 2025, 2026], "format": "d", "title": "year"}},
            "y": {"field": "east", "type": "quantitative", "scale": {"domain": [-135.4, -86.2], "nice": false, "zero": false}, "axis": {"values": [-100, -120], "format": "d", "title": "east (mm)"}},
            "color": {"field": "p3", "type": "nominal", "scale": {"domain": [0, 1], "range": ["#1f77b4", "#ff7f0e"]}, "legend": null},
            "order": {"field": "p3", "type": "quantitative"}
          }
        },
        {
          "data": {"values": [{"note": "R² ≈ −0.3 \u00a0(honest)"}]},
          "mark": {"type": "text", "align": "right", "baseline": "middle", "fontSize": 34, "fontWeight": "bold", "color": "#117a65"},
          "encoding": {
            "x": {"datum": 2026.725, "type": "quantitative"},
            "y": {"datum": -92.9, "type": "quantitative"},
            "text": {"field": "note"}
          }
        }
      ]
    }
  ],
  "spacing": 17,
  "resolve": {"scale": {"color": "independent"}, "legend": {"color": "independent"}},
  "config": {
    "font": "DejaVu Sans",
    "view": {"stroke": "black", "strokeWidth": 1.6},
    "axis": {
      "grid": false,
      "domain": false,
      "ticks": true,
      "tickColor": "black",
      "tickSize": 7,
      "tickWidth": 1.6,
      "labelFont": "DejaVu Sans",
      "labelFontSize": 30.5,
      "labelColor": "black",
      "labelPadding": 6,
      "titleFont": "DejaVu Sans",
      "titleFontSize": 35.5,
      "titleFontWeight": "normal",
      "titleColor": "black"
    },
    "axisY": {"titlePadding": 12},
    "axisX": {"titlePadding": 6},
    "title": {
      "anchor": "start",
      "frame": "group",
      "fontSize": 42,
      "fontWeight": "bold",
      "color": "black",
      "offset": 4,
      "baseline": "alphabetic"
    }
  }
}
